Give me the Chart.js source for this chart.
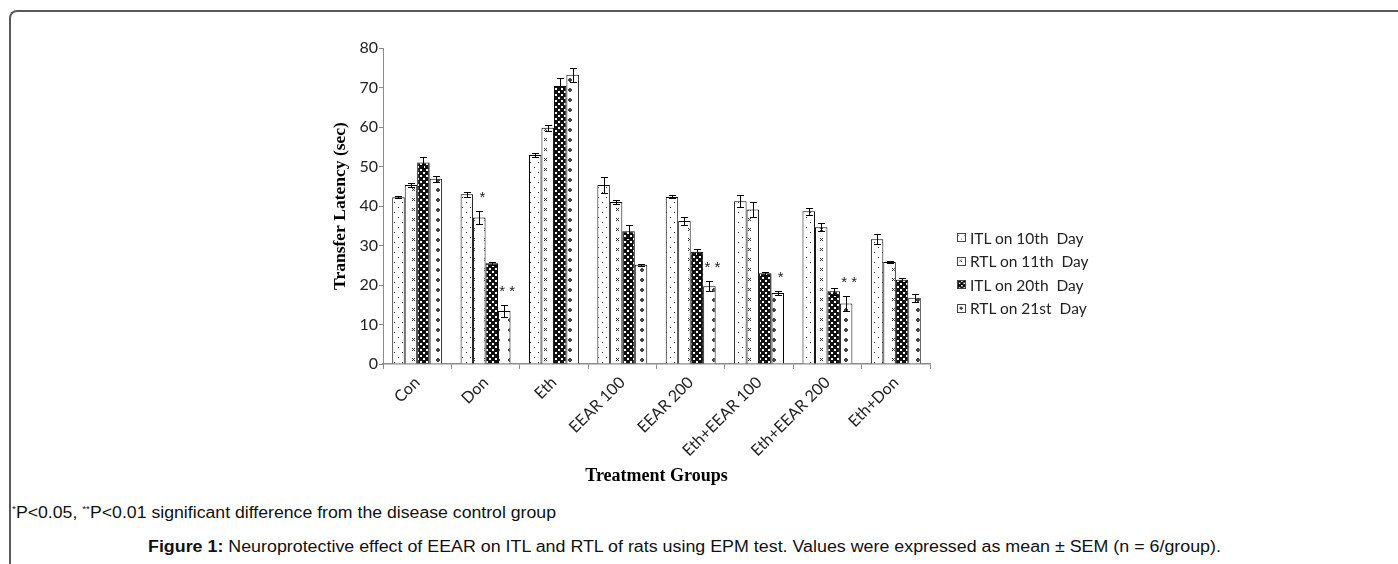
<!DOCTYPE html>
<html>
<head>
<meta charset="utf-8">
<script src="https://cdn.jsdelivr.net/npm/chart.js@4"></script>
<style>
  html, body { margin: 0; padding: 0; background: #fff; }
  body { width: 1398px; height: 564px; position: relative; overflow: hidden; font-family: "Liberation Sans", Arial, sans-serif; }
  .frame { position: absolute; left: 9px; top: 10px; width: 1420px; height: 600px;
           border-top: 2px solid #5a5a5a; border-left: 2px solid #5a5a5a; border-top-left-radius: 8px; }
  .chartBox { position: absolute; left: 300px; top: 25px; width: 640px; height: 466px; }
  .legend { position: absolute; left: 957px; top: 226px; font-family: Lato, "Open Sans", sans-serif; font-size: 15.5px; color: #222; }
  .legend div { height: 23.5px; line-height: 20px; white-space: pre; display: flex; align-items: center; }
  .legend canvas { width: 9px; height: 9px; border: 1px solid #444; margin-right: 4px; box-sizing: border-box; }
  .note { position: absolute; left: 12px; top: 504px; font-size: 16px; color: #111; white-space: nowrap;
          transform: scaleX(1.105); transform-origin: 0 0; }
  .note sup { font-size: 9px; vertical-align: 6px; }
  .caption { position: absolute; left: 148px; top: 538px; font-size: 16px; color: #111; white-space: nowrap;
             transform: scaleX(1.115); transform-origin: 0 0; }
</style>
</head>
<body>
<div class="frame"></div>
<div class="chartBox"><canvas id="latencyChart"></canvas></div>
<div class="legend" id="legend"></div>
<div class="note"><sup>*</sup>P&lt;0.05, <sup>**</sup>P&lt;0.01 significant difference from the disease control group</div>
<div class="caption"><b>Figure 1:</b> Neuroprotective effect of EEAR on ITL and RTL of rats using EPM test. Values were expressed as mean ± SEM (n = 6/group).</div>

<script>
/* ── Data ─────────────────────────────────────────────────── */
const groups = ["Con", "Don", "Eth", "EEAR 100", "EEAR 200", "Eth+EEAR 100", "Eth+EEAR 200", "Eth+Don"];
const seriesNames = ["ITL on 10th  Day", "RTL on 11th  Day", "ITL on 20th  Day", "RTL on 21st  Day"];

const itl10 = [42.2, 43.0, 52.9, 45.3, 42.3, 41.2, 38.7, 31.6];
const rtl11 = [45.3, 37.1, 59.8, 41.0, 36.2, 39.1, 34.6, 25.8];
const itl20 = [51.0, 25.5, 70.4, 33.6, 28.4, 23.0, 18.4, 21.3];
const rtl21 = [46.9, 13.4, 73.2, 25.1, 19.7, 18.0, 15.3, 16.8];

const itl10Err = [0.3, 0.6, 0.4, 2.0, 0.4, 1.5, 0.9, 1.2];
const rtl11Err = [0.4, 1.6, 0.7, 0.4, 1.0, 1.9, 1.0, 0.3];
const itl20Err = [1.5, 0.4, 1.9, 1.7, 0.8, 0.4, 0.9, 0.5];
const rtl21Err = [0.8, 1.5, 1.7, 0.2, 1.3, 0.6, 1.9, 1.0];

const yTicks = [0, 10, 20, 30, 40, 50, 60, 70, 80];

// [group index, series index, mark]
const significance = [[1, 1, "*"], [1, 3, "* *"], [4, 3, "* *"], [5, 3, "*"], [6, 3, "* *"]];

/* ── Fill patterns ────────────────────────────────────────── */
function makePattern(kind) {
  const c = document.createElement("canvas");
  const g = c.getContext("2d");
  if (kind === "dots") {
    c.width = 8; c.height = 10;
    g.fillStyle = "#fff"; g.fillRect(0, 0, 8, 10);
    g.fillStyle = "#222";
    g.fillRect(2, 2, 1, 1); g.fillRect(6, 7, 1, 1);
  } else if (kind === "cross") {
    c.width = 12; c.height = 10;
    g.fillStyle = "#fff"; g.fillRect(0, 0, 12, 10);
    g.fillStyle = "#333";
    [[4,3],[6,3],[5,4],[4,5],[6,5]].forEach(([x, y]) => g.fillRect(x, y, 1, 1));
  } else if (kind === "checker") {
    c.width = 6; c.height = 6;
    g.fillStyle = "#111"; g.fillRect(0, 0, 6, 6);
    g.fillStyle = "#fff";
    g.fillRect(0, 0, 2, 2);
    g.fillRect(3, 3, 2, 2);
  } else {
    c.width = 12; c.height = 10;
    g.fillStyle = "#fff"; g.fillRect(0, 0, 12, 10);
    g.fillStyle = "#444";
    g.fillRect(5, 3, 2, 4); g.fillRect(4, 4, 4, 2);
  }
  return { tile: c, pattern: g.createPattern(c, "repeat") };
}

const kinds = ["dots", "cross", "checker", "blob"];
const patterns = kinds.map(makePattern);
const values = [itl10, rtl11, itl20, rtl21];
const errors = [itl10Err, rtl11Err, itl20Err, rtl21Err];

/* ── Error bars + significance marks ──────────────────────── */
const errorBarPlugin = {
  id: "errorBars",
  afterDatasetsDraw(chart) {
    const ctx = chart.ctx;
    const y = chart.scales.y;
    ctx.save();
    ctx.strokeStyle = "#000";
    ctx.lineWidth = 1;
    chart.data.datasets.forEach((ds, di) => {
      const meta = chart.getDatasetMeta(di);
      meta.data.forEach((bar, i) => {
        const v = ds.data[i], e = errors[di][i];
        const top = Math.round(y.getPixelForValue(v + e)) + 0.5;
        const bot = Math.round(y.getPixelForValue(v - e)) + 0.5;
        const x = Math.round(bar.x) + 0.5;
        ctx.beginPath();
        ctx.moveTo(x, top); ctx.lineTo(x, bot);
        ctx.moveTo(x - 3.5, top); ctx.lineTo(x + 3.5, top);
        ctx.moveTo(x - 3.5, bot); ctx.lineTo(x + 3.5, bot);
        ctx.stroke();
      });
    });
    ctx.fillStyle = "#222";
    ctx.font = "15px 'Liberation Sans', Arial, sans-serif";
    ctx.textAlign = "center";
    ctx.textBaseline = "middle";
    significance.forEach(([gi, si, mark]) => {
      const bar = chart.getDatasetMeta(si).data[gi];
      const top = y.getPixelForValue(values[si][gi] + errors[si][gi]);
      ctx.fillText(mark, bar.x + 3, top - 13);
    });
    ctx.restore();
  }
};

/* ── Chart ────────────────────────────────────────────────── */
const axisGrey = "#8c8c8c";
const tickFont = { family: "Lato, 'Open Sans', sans-serif", size: 16 };
const titleFont = { family: "'Liberation Serif', 'Times New Roman', serif", size: 17.5, weight: "bold" };

new Chart(document.getElementById("latencyChart"), {
  type: "bar",
  data: {
    labels: groups,
    datasets: values.map((vals, i) => ({
      label: seriesNames[i],
      data: vals,
      backgroundColor: patterns[i].pattern,
      borderColor: "#000",
      borderWidth: 1,
      borderSkipped: "bottom",
      categoryPercentage: 0.73,
      barPercentage: 1.0,
    })),
  },
  options: {
    responsive: true,
    maintainAspectRatio: false,
    animation: false,
    layout: { padding: { left: 27, top: 23, right: 10, bottom: 0 } },
    plugins: { legend: { display: false }, tooltip: { enabled: false } },
    scales: {
      x: {
        grid: { display: true, drawOnChartArea: false, drawTicks: true, tickLength: 5, color: axisGrey, offset: true },
        border: { color: axisGrey, width: 1.5 },
        ticks: { color: "#222", font: tickFont, minRotation: 45, maxRotation: 45, padding: 4, autoSkip: false },
        title: { display: true, text: "Treatment Groups", color: "#000", font: { ...titleFont, size: 18 }, padding: { top: 4, bottom: 4 } },
        afterFit: s => { s.height = 127; },
      },
      y: {
        min: 0, max: 80,
        afterBuildTicks: s => { s.ticks = yTicks.map(v => ({ value: v })); },
        grid: { display: true, drawOnChartArea: false, drawTicks: true, tickLength: 4, color: axisGrey },
        border: { color: axisGrey, width: 1 },
        ticks: { color: "#222", font: { family: "Lato, 'Open Sans', sans-serif", size: 16 }, padding: 1 },
        title: { display: true, text: "Transfer Latency (sec)", color: "#000", font: titleFont, padding: { top: 3, bottom: 4 } },
        afterFit: s => { s.width = 56; },
      },
    },
  },
  plugins: [errorBarPlugin],
});

/* ── Legend ───────────────────────────────────────────────── */
const legendEl = document.getElementById("legend");
seriesNames.forEach((name, i) => {
  const row = document.createElement("div");
  const sw = document.createElement("canvas");
  sw.width = 9; sw.height = 9;
  const g = sw.getContext("2d");
  g.fillStyle = g.createPattern(patterns[i].tile, "repeat");
  g.translate(-2, -1);
  g.fillRect(0, 0, 12, 12);
  row.appendChild(sw);
  row.appendChild(document.createTextNode(name));
  legendEl.appendChild(row);
});
</script>
</body>
</html>
